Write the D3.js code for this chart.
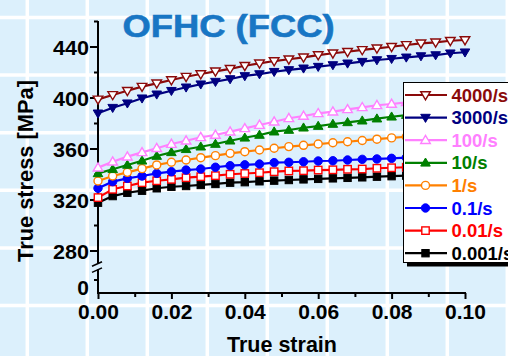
<!DOCTYPE html>
<html>
<head>
<meta charset="utf-8">
<script src="https://cdn.jsdelivr.net/npm/d3@7/dist/d3.min.js"></script>
<style>
  html, body { margin: 0; padding: 0; background: #dcf0fc; }
  svg { display: block; font-family: "Liberation Sans", Arial, sans-serif; font-weight: bold; }
</style>
</head>
<body>
<svg id="chart" width="508" height="356"></svg>
<script>
// Strain sampling points (every 0.004)
const strain = [0, 0.004, 0.008, 0.012, 0.016, 0.02, 0.024, 0.028, 0.032, 0.036,
                0.04, 0.044, 0.048, 0.052, 0.056, 0.06, 0.064, 0.068, 0.072, 0.076,
                0.08, 0.084, 0.088, 0.092, 0.096, 0.1];

// True stress [MPa] for each strain rate
const s4000 = [398.5, 402, 405.3, 408.5, 411.1, 413.7, 416.3, 418.4, 420.5, 422.5, 424.9, 426.8, 428.6,
               430, 431.5, 433.3, 434.7, 435.9, 437.3, 438.6, 439.8, 441.2, 442.5, 443.3, 444.5, 445.1];
const s3000 = [387.6, 392, 395.5, 399.4, 402.5, 405.3, 408, 410.4, 412.4, 414.5, 416.9, 418.4, 420.2,
               421.6, 422.9, 424.2, 425.5, 426.8, 428.1, 429.4, 430.4, 431.5, 432.5, 433.3, 434.7, 435.5];
const s100  = [345, 349.6, 353.6, 357, 360.2, 363.5, 366.1, 368.8, 370.6, 373.2, 375.8, 378.4, 381,
               383.7, 385.5, 387.6, 388.9, 390.7, 392.3, 393.9, 394.9, 396.2, 397.5, 398.7, 399.9, 401];
const s10   = [340.5, 343.7, 347.1, 350.4, 354.1, 357, 359.4, 361.4, 363.5, 366.1, 368.4, 370.6, 373.2,
               374.5, 376.3, 377.6, 379.2, 380.5, 381.8, 383.4, 384.9, 386.2, 387.5, 388.7, 389.9, 391];
const s1    = [334.5, 338.4, 341.3, 344.2, 347.1, 349.2, 351, 352.8, 354.4, 356.2, 357.5, 358.8, 360.2,
               361.5, 362.5, 363.5, 364.5, 365.3, 366.3, 367.3, 368.3, 369.2, 370.1, 371, 371.8, 372.6];
const s01   = [328.8, 334, 336.6, 338.4, 340.5, 341.8, 343.1, 343.9, 345.3, 346.5, 347.2, 347.8, 348.9,
               349.2, 349.6, 350.2, 350.4, 351, 351.5, 351.8, 352.3, 352.8, 353.2, 353.6, 354, 354.4];
const s001  = [321.5, 328, 330.6, 333.2, 334.7, 335.8, 337.1, 337.9, 338.7, 339.8, 340.4, 341, 341.8,
               342.4, 342.6, 343.1, 343.3, 343.7, 343.9, 344.5, 344.9, 345.3, 345.7, 346.1, 346.5, 346.9];
const s0001 = [317.5, 322.7, 325.3, 326.9, 328.8, 330, 330.6, 331.4, 332.2, 333.2, 333.6, 334.3, 334.8,
               335.3, 335.8, 336.2, 336.6, 337, 337.4, 337.9, 338.3, 338.7, 339.1, 339.5, 339.9, 340.2];

const rateLabels = ["4000/s", "3000/s", "100/s", "10/s", "1/s", "0.1/s", "0.01/s", "0.001/s"];
const rateValues = [s4000, s3000, s100, s10, s1, s01, s001, s0001];
const rateColors = ["#8b0a0a", "#000080", "#ff80ff", "#008000", "#ff8000", "#0000ff", "#ff0000", "#000000"];
const rateMarkers = ["triDownOpen", "triDown", "triUpOpen", "triUp", "circleOpen", "circle", "squareOpen", "square"];

const xTicks = [0, 0.02, 0.04, 0.06, 0.08, 0.10];
const xMinorTicks = [0.01, 0.03, 0.05, 0.07, 0.09];
const yTicks = [280, 320, 360, 400, 440];
const yMinorTicks = [300, 340, 380, 420, 460];

const svg = d3.select("#chart");

// backdrop: pale blue panel crossed by a white grid
svg.append("rect").attr("width", 508).attr("height", 356).attr("fill", "#dcf0fc");
const bg = svg.append("g").attr("stroke", "#ffffff").attr("stroke-width", 3.5);
bg.selectAll("line.v").data(d3.range(27.3, 508, 60)).join("line")
  .attr("x1", d => d).attr("x2", d => d).attr("y1", 0).attr("y2", 356);
bg.selectAll("line.h").data(d3.range(17.5, 356, 57.6)).join("line")
  .attr("x1", 0).attr("x2", 508).attr("y1", d => d).attr("y2", d => d);

// scales: upper stress range plus a short segment near zero below the axis break
const x = d3.scaleLinear().domain([0, 0.1]).range([98, 465]);
const yUp = d3.scaleLinear().domain([270, 460]).range([263.25, 21]);
const yLow = d3.scaleLinear().domain([0, 20]).range([293, 266]);

const axisStyle = g => {
  g.selectAll(".domain").remove();
  g.selectAll(".tick line").attr("stroke", "#000").attr("stroke-width", 2);
  g.selectAll(".tick text").attr("fill", "#000").attr("font-family", "Liberation Sans, Arial, sans-serif")
    .attr("font-weight", "bold");
};

// y axis: upper major + minor ticks
svg.append("g").attr("transform", "translate(98,0)")
  .call(d3.axisLeft(yUp).tickValues(yTicks).tickSize(8).tickPadding(1).tickFormat(d3.format("d")))
  .call(axisStyle)
  .call(g => g.selectAll(".tick text").attr("font-size", 21).attr("dy", "0.36em")
    .attr("textLength", 36).attr("lengthAdjust", "spacingAndGlyphs"));
svg.append("g").attr("transform", "translate(98,0)")
  .call(d3.axisLeft(yUp).tickValues(yMinorTicks).tickSize(4).tickFormat(""))
  .call(axisStyle);
// y axis: lower segment
svg.append("g").attr("transform", "translate(98,0)")
  .call(d3.axisLeft(yLow).tickValues([0]).tickSize(0).tickPadding(9).tickFormat(d3.format("d")))
  .call(axisStyle)
  .call(g => g.selectAll(".tick text").attr("font-size", 21).attr("dy", "0.08em"));
svg.append("g").attr("transform", "translate(98,0)")
  .call(d3.axisLeft(yLow).tickValues([10]).tickSize(4).tickFormat(""))
  .call(axisStyle);

// y axis line in two pieces with break marks
const axisG = svg.append("g").attr("stroke", "#000").attr("stroke-width", 2).attr("fill", "none");
axisG.append("line").attr("x1", 98).attr("x2", 98).attr("y1", yUp(460)).attr("y2", yUp(270));
axisG.append("line").attr("x1", 98).attr("x2", 98).attr("y1", yLow(17.5)).attr("y2", yLow(0) + 1);
axisG.append("line").attr("x1", 92).attr("y1", yUp(270) + 3).attr("x2", 102).attr("y2", yUp(270) - 1.5).attr("stroke-width", 1.5);
axisG.append("line").attr("x1", 92).attr("y1", yLow(17.5) + 3).attr("x2", 102).attr("y2", yLow(17.5) - 1.5).attr("stroke-width", 1.5);

// x axis
svg.append("g").attr("transform", "translate(0,293)")
  .call(d3.axisBottom(x).tickValues(xTicks).tickSize(6).tickPadding(4.5).tickFormat(d3.format(".2f")))
  .call(axisStyle)
  .call(g => g.selectAll(".tick text").attr("font-size", 21).attr("dy", "0.72em"));
svg.append("g").attr("transform", "translate(0,293)")
  .call(d3.axisBottom(x).tickValues(xMinorTicks).tickSize(4).tickFormat(""))
  .call(axisStyle);
axisG.append("line").attr("x1", 97).attr("x2", 466).attr("y1", 293).attr("y2", 293);

// marker shapes
function drawMarker(g, type, color) {
  const open = type.endsWith("Open");
  const base = type.replace("Open", "");
  let el;
  if (base === "triDown") {
    el = g.append("path").attr("d", "M-4.8,-3.3L4.8,-3.3L0,4.8Z");
  } else if (base === "triUp") {
    el = g.append("path").attr("d", "M-4.8,3.3L4.8,3.3L0,-4.8Z");
  } else if (base === "circle") {
    el = g.append("circle").attr("r", open ? 4 : 4.2);
  } else {
    el = g.append("rect").attr("x", -3.7).attr("y", -3.7).attr("width", 7.4).attr("height", 7.4);
  }
  el.attr("fill", open ? "#ffffff" : color).attr("stroke", color).attr("stroke-width", open ? 1.4 : 1);
}

// curves: drawn bottom-up so higher rates sit on top
const line = d3.line().x((d, i) => x(strain[i])).y(d => yUp(d));
const series = rateLabels.map((lab, k) => ({ lab, vals: rateValues[k], color: rateColors[k], marker: rateMarkers[k] }));
const curves = svg.append("g");
series.slice().reverse().forEach(s => {
  const g = curves.append("g");
  g.append("path").attr("d", line(s.vals)).attr("fill", "none").attr("stroke", s.color).attr("stroke-width", 2.2);
  s.vals.forEach((v, i) => {
    const m = g.append("g").attr("transform", `translate(${x(strain[i])},${yUp(v)})`);
    drawMarker(m, s.marker, s.color);
  });
});

// title
svg.append("text").attr("x", 122.5).attr("y", 37).attr("font-size", 30.5).attr("fill", "#1876c4")
  .attr("stroke", "#1876c4").attr("stroke-width", 0.6)
  .attr("textLength", 212).attr("lengthAdjust", "spacingAndGlyphs").text("OFHC (FCC)");

// axis titles
svg.append("text").attr("x", 282).attr("y", 351.5).attr("text-anchor", "middle").attr("font-size", 21.5)
  .attr("fill", "#000").text("True strain");
svg.append("text").attr("transform", "translate(33,171) rotate(-90)").attr("text-anchor", "middle")
  .attr("font-size", 22).attr("fill", "#000").attr("textLength", 182).attr("lengthAdjust", "spacingAndGlyphs")
  .text("True stress [MPa]");

// legend with drop shadow
const lg = svg.append("g");
lg.append("rect").attr("x", 407).attr("y", 86.5).attr("width", 120).attr("height", 180).attr("fill", "#000");
lg.append("rect").attr("x", 403.5).attr("y", 82.5).attr("width", 120).attr("height", 180)
  .attr("fill", "#fff").attr("stroke", "#000").attr("stroke-width", 1);
series.forEach((s, k) => {
  const cy = 95 + k * 22.6;
  const row = lg.append("g");
  row.append("line").attr("x1", 405).attr("x2", 447).attr("y1", cy).attr("y2", cy)
    .attr("stroke", s.color).attr("stroke-width", 2.2);
  drawMarker(row.append("g").attr("transform", `translate(425.5,${cy})`), s.marker, s.color);
  row.append("text").attr("x", 451.5).attr("y", cy + 6.6).attr("font-size", 18.5).attr("fill", s.color).text(s.lab);
});
</script>
</body>
</html>
